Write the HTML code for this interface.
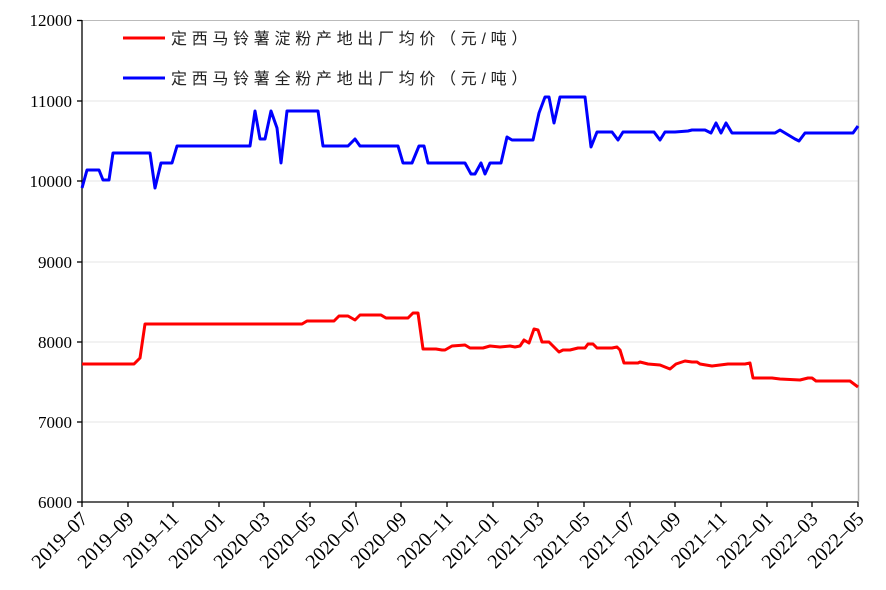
<!DOCTYPE html>
<html><head><meta charset="utf-8"><style>
body{margin:0;background:#fff}
svg{display:block}
.yl{font-family:"Liberation Serif","Noto Serif CJK SC",serif;font-size:17px;fill:#000}
.xl{font-family:"Liberation Serif","Noto Serif CJK SC",serif;font-size:20px;fill:#000}
.lg{font-family:"Liberation Sans","Noto Sans CJK SC",sans-serif;font-size:16px;fill:#222;letter-spacing:4.7px}
</style></head><body>
<svg width="886" height="590" viewBox="0 0 886 590" xmlns="http://www.w3.org/2000/svg">
<rect width="886" height="590" fill="#fff"/>
<g stroke="#e6e6e6" stroke-width="1">
<line x1="82" y1="101" x2="858" y2="101"/><line x1="82" y1="181" x2="858" y2="181"/>
<line x1="82" y1="262" x2="858" y2="262"/><line x1="82" y1="342" x2="858" y2="342"/>
<line x1="82" y1="422" x2="858" y2="422"/>
</g>
<line x1="82" y1="20.5" x2="858" y2="20.5" stroke="#bbb"/>
<line x1="858.5" y1="20" x2="858.5" y2="502" stroke="#aaa" stroke-width="1.5"/>
<g stroke="#000" stroke-width="1.3">
<line x1="82" y1="20" x2="82" y2="503"/><line x1="82" y1="502" x2="858" y2="502"/>
<line x1="77" y1="20.5" x2="82" y2="20.5"/><line x1="77" y1="101" x2="82" y2="101"/><line x1="77" y1="181" x2="82" y2="181"/><line x1="77" y1="262" x2="82" y2="262"/><line x1="77" y1="342" x2="82" y2="342"/><line x1="77" y1="422" x2="82" y2="422"/><line x1="77" y1="502" x2="82" y2="502"/>
</g>
<g class="yl" text-anchor="end">
<text x="72" y="26">12000</text><text x="72" y="107">11000</text><text x="72" y="187">10000</text>
<text x="72" y="268">9000</text><text x="72" y="348">8000</text><text x="72" y="428">7000</text><text x="72" y="508">6000</text>
</g>
<g class="xl" text-anchor="end">
<text transform="translate(89,520) rotate(-45)">2019–07</text>
<text transform="translate(135,520) rotate(-45)">2019–09</text>
<text transform="translate(180,520) rotate(-45)">2019–11</text>
<text transform="translate(226,520) rotate(-45)">2020–01</text>
<text transform="translate(271,520) rotate(-45)">2020–03</text>
<text transform="translate(317,520) rotate(-45)">2020–05</text>
<text transform="translate(363,520) rotate(-45)">2020–07</text>
<text transform="translate(408,520) rotate(-45)">2020–09</text>
<text transform="translate(454,520) rotate(-45)">2020–11</text>
<text transform="translate(500,520) rotate(-45)">2021–01</text>
<text transform="translate(545,520) rotate(-45)">2021–03</text>
<text transform="translate(591,520) rotate(-45)">2021–05</text>
<text transform="translate(637,520) rotate(-45)">2021–07</text>
<text transform="translate(682,520) rotate(-45)">2021–09</text>
<text transform="translate(728,520) rotate(-45)">2021–11</text>
<text transform="translate(774,520) rotate(-45)">2022–01</text>
<text transform="translate(819,520) rotate(-45)">2022–03</text>
<text transform="translate(865,520) rotate(-45)">2022–05</text>
</g>
<g stroke="#000" stroke-width="1.3">
<line x1="82" y1="502" x2="82" y2="507"/><line x1="128" y1="502" x2="128" y2="507"/><line x1="173" y1="502" x2="173" y2="507"/><line x1="219" y1="502" x2="219" y2="507"/><line x1="264" y1="502" x2="264" y2="507"/><line x1="310" y1="502" x2="310" y2="507"/><line x1="356" y1="502" x2="356" y2="507"/><line x1="401" y1="502" x2="401" y2="507"/><line x1="447" y1="502" x2="447" y2="507"/><line x1="493" y1="502" x2="493" y2="507"/><line x1="538" y1="502" x2="538" y2="507"/><line x1="584" y1="502" x2="584" y2="507"/><line x1="630" y1="502" x2="630" y2="507"/><line x1="675" y1="502" x2="675" y2="507"/><line x1="721" y1="502" x2="721" y2="507"/><line x1="767" y1="502" x2="767" y2="507"/><line x1="812" y1="502" x2="812" y2="507"/><line x1="858" y1="502" x2="858" y2="507"/>
</g>
<polyline fill="none" stroke="#0000ff" stroke-width="3" stroke-linejoin="round" points="82,188 87,170 99,170 103,180 109,180 113,153 150,153 155,188 161,163 172,163 177,146 250,146 255,111 260,139 265,139 271,111 277,128 281,163 287,111 318,111 323,146 348,146 355,139 360,146 398,146 403,163 412,163 419,146 424,146 428,163 465,163 471,174 475,174 481,163 485,174 490,163 501,163 507,137 512,140 533,140 539,113 545,97 549,97 554,123 560,97 585,97 591,147 597,132 612,132 618,140 623,132 654,132 660,140 665,132 675,132 688,131 692,130 705,130 711,133 716,123 721,133 726,123 732,133 775,133 780,130 795,139 799,141 805,133 853,133 858,126"/>
<polyline fill="none" stroke="#ff0000" stroke-width="3" stroke-linejoin="round" points="82,364 134,364 140,358 145,324 302,324 307,321 334,321 339,316 348,316 355,320 360,315 381,315 386,318 408,318 413,313 418,313 423,349 436,349 442,350 445,350 452,346 465,345 470,348 483,348 490,346 500,347 510,346 515,347 520,346 524,340 529,343 534,329 538,330 542,342 549,342 559,352 563,350 570,350 578,348 585,348 588,344 593,344 597,348 612,348 617,347 620,350 624,363 638,363 640,362 648,364 660,365 670,369 676,364 685,361 692,362 697,362 700,364 712,366 728,364 745,364 750,363 753,378 772,378 780,379 800,380 808,378 812,378 816,381 850,381 858,387"/>
<line x1="123" y1="38" x2="165" y2="38" stroke="#ff0000" stroke-width="3"/>
<line x1="123" y1="78" x2="165" y2="78" stroke="#0000ff" stroke-width="3"/>
<text class="lg" x="171" y="44">定西马铃薯淀粉产地出厂均价（元/吨）</text>
<text class="lg" x="171" y="84">定西马铃薯全粉产地出厂均价（元/吨）</text>
</svg>
</body></html>
